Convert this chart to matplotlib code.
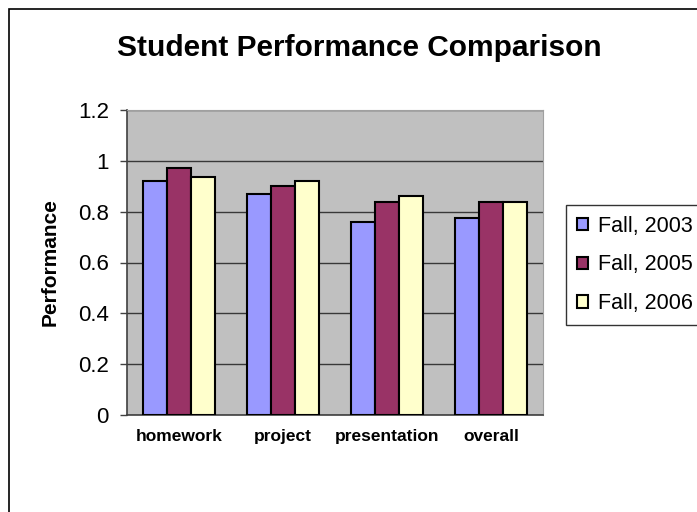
import numpy as np
import matplotlib.pyplot as plt
from matplotlib.patches import Rectangle

# --- data ---
categories = ["homework", "project", "presentation", "overall"]
series = ["Fall, 2003", "Fall, 2005", "Fall, 2006"]
fall_2003 = [0.92, 0.87, 0.76, 0.775]
fall_2005 = [0.97, 0.90, 0.84, 0.84]
fall_2006 = [0.935, 0.92, 0.86, 0.84]
yticks = [0, 0.2, 0.4, 0.6, 0.8, 1, 1.2]
ytick_labels = ["0", "0.2", "0.4", "0.6", "0.8", "1", "1.2"]

colors = ["#9999FF", "#993366", "#FFFFCC"]

plt.rcParams['font.family'] = ['Liberation Sans', 'DejaVu Sans']

fig = plt.figure(figsize=(6.97, 5.12), dpi=100)
ax = fig.add_axes([127 / 697, 1 - 415 / 512, 416 / 697, 305 / 512])
ax.set_facecolor("#C0C0C0")

x = np.arange(len(categories))
w = 0.23
for i, (vals, lab) in enumerate(zip([fall_2003, fall_2005, fall_2006], series)):
    ax.bar(x + (i - 1) * w, vals, width=w, color=colors[i], edgecolor="black",
           linewidth=1.5, label=lab, zorder=3)

ax.set_xlim(-0.5, len(categories) - 0.5)
ax.set_ylim(0, 1.2)
ax.set_yticks(yticks)
ax.set_yticklabels(ytick_labels, fontsize=16)
ax.set_xticks(x)
ax.set_xticklabels(categories, fontsize=12.5, fontweight="bold")
ax.tick_params(axis="x", length=0, pad=10)
ax.tick_params(axis="y", length=5, width=1, color="#404040", pad=8)
ax.yaxis.grid(True, color="#383838", linewidth=1, zorder=1)
ax.set_axisbelow(True)

for s in ["left", "bottom"]:
    ax.spines[s].set_color("#404040")
    ax.spines[s].set_linewidth(1.2)
for s in ["top", "right"]:
    ax.spines[s].set_color("#A0A0A0")

ax.set_ylabel("Performance", fontsize=15, fontweight="bold", labelpad=13)

fig.text(0.515, 1 - 48 / 512, "Student Performance Comparison", ha="center",
         va="center", fontsize=21.5, fontweight="bold")

leg = ax.legend(loc="upper left", bbox_to_anchor=(566 / 697, 1 - 205 / 512),
                bbox_transform=fig.transFigure, fontsize=15.5, frameon=True,
                fancybox=False, edgecolor="black", handlelength=0.5,
                handleheight=0.5, handletextpad=0.5, labelspacing=0.82,
                borderpad=0.5, borderaxespad=0)
leg.get_frame().set_linewidth(1)

# outer chart border (runs off the right/bottom in the reference)
fig.patches.append(Rectangle((9 / 697, -0.1), 1.2, 1.1 - 9 / 512, fill=False,
                             edgecolor="black", linewidth=1.2,
                             transform=fig.transFigure, clip_on=False))

fig.savefig("out.png", dpi=100)
